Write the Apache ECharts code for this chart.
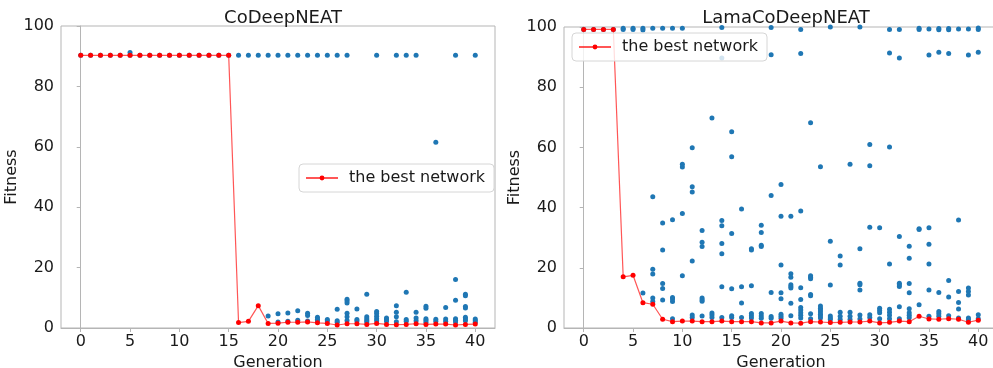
<!DOCTYPE html>
<html>
<head>
<meta charset="utf-8">
<script src="https://cdn.jsdelivr.net/npm/echarts@6/dist/echarts.min.js"></script>
<style>
html,body{margin:0;padding:0;background:#fff;}
#chart{width:993px;height:368px;}
</style>
</head>
<body>
<div id="chart"></div>
<script>
const generations = [0,1,2,3,4,5,6,7,8,9,10,11,12,13,14,15,16,17,18,19,20,21,22,23,24,25,26,27,28,29,30,31,32,33,34,35,36,37,38,39,40];
const xTickLabels = [0,5,10,15,20,25,30,35,40];
const yTickLabels = [0,20,40,60,80,100];
const titles = ['CoDeepNEAT','LamaCoDeepNEAT'];
const legendLabel = 'the best network';

// CoDeepNEAT: best network per generation
const coBest = [90.3,90.3,90.3,90.3,90.3,90.3,90.3,90.3,90.3,90.3,90.3,90.3,90.3,90.3,90.3,90.3,
  1.8,2.2,7.4,1.5,1.6,1.9,1.9,2.0,1.7,1.5,1.0,1.4,1.4,1.2,1.5,1.2,1.1,1.2,1.4,1.2,1.3,1.3,1.0,1.2,1.3];
// CoDeepNEAT: population fitness per generation [generation, values]
const coPopulation = [
  [0,[90.3]],[1,[90.3]],[2,[90.3]],[3,[90.3]],[4,[90.3]],[5,[91.2,90.3]],[6,[90.3]],[7,[90.3]],
  [8,[90.3]],[9,[90.3]],[10,[90.3]],[11,[90.3]],[12,[90.3]],[13,[90.3]],[14,[90.3]],[15,[90.3]],
  [16,[90.3]],[17,[90.3]],[18,[90.3]],
  [19,[90.3,4.0]],
  [20,[90.3,4.7,2.0]],
  [21,[90.3,5.0,2.2]],
  [22,[90.3,5.7,2.6]],
  [23,[90.3,4.9,4.1,2.3]],
  [24,[90.3,3.6,2.9,2.4]],
  [25,[90.3,2.8,2.3]],
  [26,[90.3,6.2,2.4,1.9]],
  [27,[90.3,9.5,8.9,8.3,4.9,3.7,2.5]],
  [28,[6.3,2.8,2.3]],
  [29,[11.2,3.7,3.1,2.5,2.0]],
  [30,[90.3,5.5,4.8,3.9,3.1,2.4]],
  [31,[3.3,2.8,2.2]],
  [32,[90.3,7.4,5.2,3.7,2.1]],
  [33,[90.3,11.8,2.8,2.2]],
  [34,[90.3,5.2,3.3,2.4]],
  [35,[7.2,6.5,3.1,2.6,1.9]],
  [36,[61.5,2.9,2.2]],
  [37,[6.8,3.0,2.2]],
  [38,[90.3,16.1,9.2,3.1,2.6,2.0]],
  [39,[11.2,10.7,7.1,6.6,3.6,3.0,2.4]],
  [40,[90.3,3.0,2.5,1.9]]
];

// LamaCoDeepNEAT: best network per generation
const lamaBest = [99.2,99.2,99.2,99.2,17.0,17.5,8.4,7.9,2.9,2.1,2.3,2.3,2.1,2.1,2.3,2.1,2.1,2.1,1.7,1.7,
  2.3,1.7,1.6,2.1,2.0,1.8,1.9,2.0,2.0,2.3,1.7,1.9,2.3,2.1,3.9,3.0,2.9,3.1,2.9,1.9,2.6];
// LamaCoDeepNEAT: population fitness per generation
const lamaPopulation = [
  [0,[99.2]],[1,[99.2]],[2,[99.2]],[3,[99.2]],
  [4,[99.6,99.2]],
  [5,[99.6,99.2]],
  [6,[99.6,99.0,11.6]],
  [7,[99.6,43.6,19.5,17.9,10.0,8.8]],
  [8,[99.6,34.9,25.9,14.8,13.1,9.3]],
  [9,[99.6,36.0,10.1,9.6,8.8,3.1]],
  [10,[99.6,54.4,53.5,38.0,17.4]],
  [11,[59.9,46.9,45.2,22.3,4.3,3.5]],
  [12,[32.4,28.5,27.1,10.0,9.4,8.9,4.0]],
  [13,[69.8,5.0,4.3,3.5]],
  [14,[99.8,89.7,35.7,34.0,28.1,24.7,13.7,3.5]],
  [15,[65.2,56.9,31.4,13.0,4.1,3.5]],
  [16,[39.5,13.7,8.3,3.5]],
  [17,[26.3,25.9,14.0,4.8,4.1,3.3]],
  [18,[34.1,31.7,27.5,27.1,4.8,4.0,3.2]],
  [19,[99.8,90.8,44.0,11.8,3.8,3.2]],
  [20,[47.7,37.1,20.9,11.7,9.7,4.6,3.9,3.2]],
  [21,[37.1,18.0,16.9,14.4,13.8,13.3,8.2,4.1]],
  [22,[99.2,91.2,38.9,13.4,9.5,6.8,6.0,5.1,4.2,3.3]],
  [23,[68.2,17.4,16.9,16.4,11.1,10.7,4.7,3.1]],
  [24,[53.6,7.3,6.6,6.0,5.3,4.6,4.0,3.3]],
  [25,[100,28.8,14.3,4.0,3.3,2.8]],
  [26,[23.9,20.9,5.2,3.9,2.8]],
  [27,[54.4,5.2,3.9,2.8]],
  [28,[100,26.3,14.9,14.4,12.6,4.3,3.0]],
  [29,[61.0,53.9,33.5,4.4,3.5]],
  [30,[33.3,6.6,5.8,5.1,3.1]],
  [31,[99.2,91.4,60.1,21.3,6.2,5.2,4.2,3.1]],
  [32,[99.2,89.7,30.4,14.9,14.4,13.8,7.1,3.1]],
  [33,[27.2,23.2,14.8,11.7,6.4,5.1,4.2,3.4]],
  [34,[99.6,99.2,33.0,32.7,7.7]],
  [35,[99.3,90.7,33.3,27.8,21.3,12.6,3.9]],
  [36,[99.5,99.1,91.6,11.8,5.5,4.7,3.9]],
  [37,[99.5,99.1,91.2,15.8,10.3,4.1]],
  [38,[99.3,35.9,12.1,8.5,6.3,3.3]],
  [39,[99.3,90.7,13.3,12.1,11.0,3.3,2.7]],
  [40,[99.7,99.2,91.6,4.4,3.1]]
];

function flatten(pop){
  const out = [];
  pop.forEach(([g, vals]) => vals.forEach(v => out.push([g, v])));
  return out;
}
function bestPairs(best){ return generations.map((g,i)=>[g,best[i]]); }

const FONT = 'DejaVu Sans';
const TXT = '#1a1a1a';
const AX = '#b5b5b5';
const BLUE = '#1f77b4';

function xAxis(gi){
  return {
    gridIndex: gi, type: 'value', min: -2, max: 42,
    name: 'Generation', nameLocation: 'middle', nameGap: 24,
    nameTextStyle: {fontFamily: FONT, fontSize: 16, color: TXT},
    axisLine: {show: true, lineStyle: {color: AX, width: 1}},
    axisTick: {show: true, length: 4, lineStyle: {color: AX}, customValues: xTickLabels},
    axisLabel: {fontFamily: FONT, fontSize: 16, color: TXT, margin: 6, customValues: xTickLabels},
    splitLine: {show: false}
  };
}
function yAxis(gi){
  return {
    gridIndex: gi, type: 'value', min: 0, max: 100, interval: 20,
    name: 'Fitness', nameLocation: 'middle', nameGap: 36, nameRotate: 90,
    nameTextStyle: {fontFamily: FONT, fontSize: 16, color: TXT},
    axisLine: {show: true, lineStyle: {color: AX, width: 1}},
    axisTick: {show: true, length: 4, lineStyle: {color: AX}},
    axisLabel: {fontFamily: FONT, fontSize: 16, color: TXT, margin: 7},
    splitLine: {show: false}
  };
}
function scatter(gi, pop){
  return {
    type: 'scatter', name: 'population' + gi, xAxisIndex: gi, yAxisIndex: gi,
    data: flatten(pop), symbolSize: 5, itemStyle: {color: BLUE, opacity: 1},
    silent: true, z: 2
  };
}
function bestLine(gi, best){
  return {
    type: 'line', name: legendLabel, xAxisIndex: gi, yAxisIndex: gi,
    data: bestPairs(best), symbol: 'circle', symbolSize: 5, showSymbol: true,
    lineStyle: {color: 'rgba(255,30,30,0.75)', width: 1.2},
    itemStyle: {color: '#ff0000'},
    emphasis: {disabled: true}, animation: false, z: 3
  };
}
function legend(left, top){
  return {
    left: left, top: top, data: [legendLabel], orient: 'horizontal',
    itemWidth: 32, itemHeight: 6, itemGap: 6,
    padding: [5, 9, 5, 6],
    backgroundColor: 'rgba(255,255,255,0.8)',
    borderColor: '#d6d6d6', borderWidth: 1, borderRadius: 4,
    textStyle: {fontFamily: FONT, fontSize: 16, color: TXT, padding: [0,0,0,6], lineHeight: 18},
    selectedMode: false
  };
}

const chart = echarts.init(document.getElementById('chart'), null, {renderer: 'canvas'});
chart.setOption({
  animation: false,
  backgroundColor: '#ffffff',
  title: [
    {text: titles[0], left: 278, top: 4, textAlign: 'center',
     textStyle: {fontFamily: FONT, fontSize: 18, fontWeight: 'normal', color: TXT}},
    {text: titles[1], left: 781, top: 4, textAlign: 'center',
     textStyle: {fontFamily: FONT, fontSize: 18, fontWeight: 'normal', color: TXT}}
  ],
  legend: [legend(299, 164), legend(572, 33)],
  grid: [
    {left: 61, top: 26, width: 434, height: 302, show: true, borderColor: AX, borderWidth: 1, backgroundColor: 'transparent', outerBoundsMode: 'none', containLabel: false},
    {left: 564, top: 27, width: 434, height: 301, show: true, borderColor: AX, borderWidth: 1, backgroundColor: 'transparent', outerBoundsMode: 'none', containLabel: false}
  ],
  xAxis: [xAxis(0), xAxis(1)],
  yAxis: [yAxis(0), yAxis(1)],
  series: [scatter(0, coPopulation), scatter(1, lamaPopulation), bestLine(0, coBest), bestLine(1, lamaBest)]
});
</script>
</body>
</html>
